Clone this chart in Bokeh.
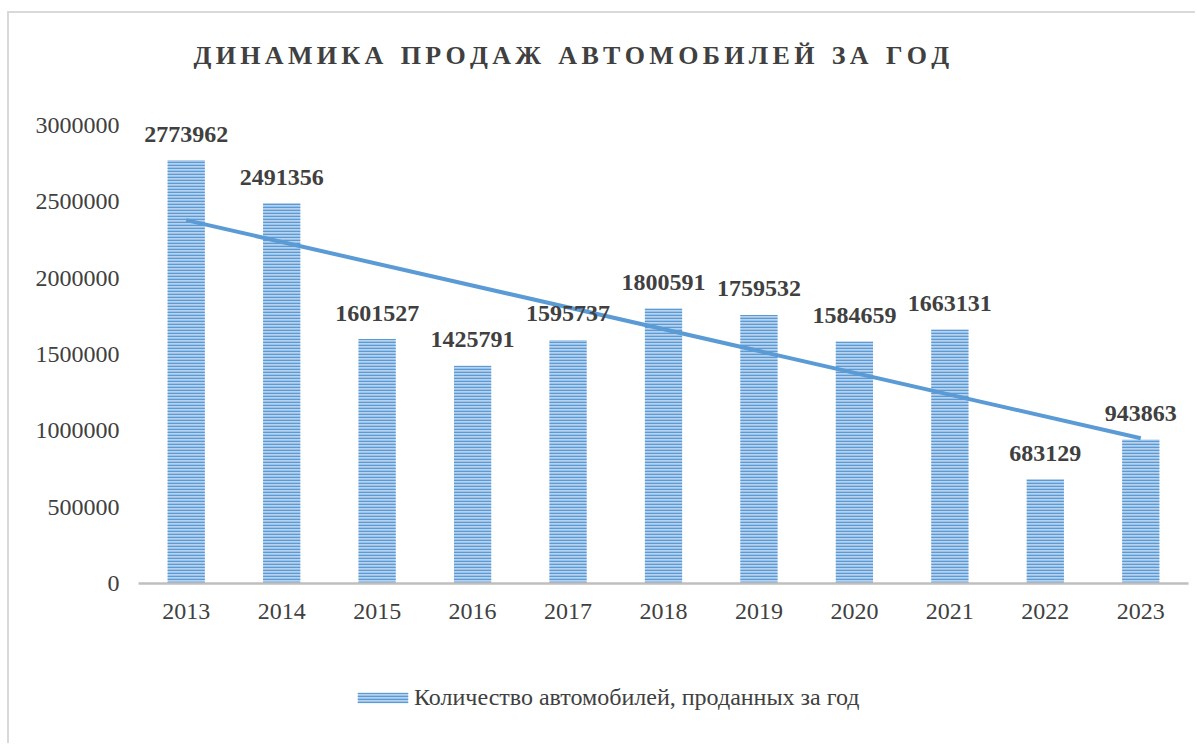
import numpy as np
from bokeh.plotting import figure
from bokeh.layouts import column
from bokeh.models import (ColumnDataSource, Range1d, FactorRange, FixedTicker,
                          NumeralTickFormatter, Legend, LegendItem)
from bokeh.core.properties import value
from bokeh.embed import file_html
from bokeh.resources import INLINE

years = ["2013", "2014", "2015", "2016", "2017", "2018", "2019", "2020", "2021", "2022", "2023"]
sales = [2773962, 2491356, 1601527, 1425791, 1595737, 1800591, 1759532, 1584659, 1663131, 683129, 943863]
y_ticks = [0, 500000, 1000000, 1500000, 2000000, 2500000, 3000000]
title_words = ["ДИНАМИКА", "ПРОДАЖ", "АВТОМОБИЛЕЙ", "ЗА", "ГОД"]
series_name = "Количество автомобилей, проданных за год"

FONT = "Liberation Serif"
BLUE = "#5b9bd5"
TXT = "#404040"

# linear trend line (least squares on the data)
idx = np.arange(len(sales))
slope, intercept = np.polyfit(idx, np.array(sales, dtype=float), 1)
trend_y = [intercept, intercept + slope * idx[-1]]
trend_x = [years[0], years[-1]]

src = ColumnDataSource(dict(years=years, sales=sales, labels=[str(v) for v in sales]))

LSP = "\u2006"
WSP = "\u2006\u2002"
title_text = WSP.join(LSP.join(w) for w in title_words)

# geometry: frame 490 px tall, 458 px per 3 000 000
FRAME_TOP, FRAME_BOTTOM_BORDER, H_MAIN = 80, 85, 655
frame_h = H_MAIN - FRAME_TOP - FRAME_BOTTOM_BORDER
y_end = 3000000 * frame_h / 458.0

bar_style = dict(fill_color="#b8d2ee", line_color=None,
                 hatch_pattern="horizontal_line", hatch_color=BLUE,
                 hatch_scale=3, hatch_weight=1.6)

p = figure(x_range=FactorRange(*years), y_range=Range1d(0, y_end),
           width=1186, height=H_MAIN, output_backend="svg", toolbar_location=None,
           min_border_left=129, min_border_right=7, min_border_top=FRAME_TOP,
           min_border_bottom=FRAME_BOTTOM_BORDER)

p.title.text = title_text
p.title.text_font = FONT
p.title.text_font_size = "26px"
p.title.text_font_style = "bold"
p.title.text_color = TXT
p.title.align = "left"
p.title.offset = 55
p.title.standoff = 48

p.outline_line_color = None
p.background_fill_color = "white"
p.border_fill_color = "white"
p.xgrid.visible = False
p.ygrid.visible = False

bars = p.vbar(x="years", top="sales", width=0.39, source=src, **bar_style)

p.line(x=trend_x, y=trend_y, line_color=BLUE, line_width=4)

p.text(x="years", y="sales", text="labels", source=src,
       text_font=value(FONT), text_font_size="24px", text_font_style="bold",
       text_color=TXT, text_align="center", text_baseline="middle",
       y_offset=-26)

p.yaxis.ticker = FixedTicker(ticks=y_ticks)
p.yaxis.formatter = NumeralTickFormatter(format="0")
p.yaxis.axis_line_color = None
p.yaxis.major_tick_line_color = None
p.yaxis.minor_tick_line_color = None
p.yaxis.major_label_standoff = 13
p.yaxis.major_label_text_font = FONT
p.yaxis.major_label_text_font_size = "24px"
p.yaxis.major_label_text_color = TXT

p.xaxis.axis_line_color = "#bfbfbf"
p.xaxis.axis_line_width = 2.5
p.xaxis.major_tick_line_color = None
p.xaxis.minor_tick_line_color = None
p.xaxis.major_label_standoff = 14
p.xaxis.major_label_text_font = FONT
p.xaxis.major_label_text_font_size = "24px"
p.xaxis.major_label_text_color = TXT

# legend strip below the chart (its swatch renderer sits outside the visible range)
pl = figure(width=1186, height=75, output_backend="svg", toolbar_location=None,
            x_range=Range1d(0, 1), y_range=Range1d(0, 1),
            x_axis_location=None, y_axis_location=None,
            min_border=0, outline_line_color=None)
pl.xgrid.visible = False
pl.ygrid.visible = False
swatch = pl.vbar(x=[-10], top=[0], width=0.39, **bar_style)
legend = Legend(items=[LegendItem(label=series_name, renderers=[swatch])],
                location=(213, 32), orientation="horizontal",
                glyph_width=63, glyph_height=13, label_standoff=0,
                padding=0, margin=0, border_line_color=None,
                background_fill_alpha=0,
                label_text_font=FONT, label_text_font_size="24px",
                label_text_color=TXT)
pl.add_layout(legend)

layout = column(p, pl, spacing=0)
layout.styles = {"margin-top": "11px", "margin-left": "7px",
                 "border-top": "2px solid #d9d9d9", "border-left": "2px solid #d9d9d9"}

open("out.html", "w").write(file_html(layout, INLINE))
